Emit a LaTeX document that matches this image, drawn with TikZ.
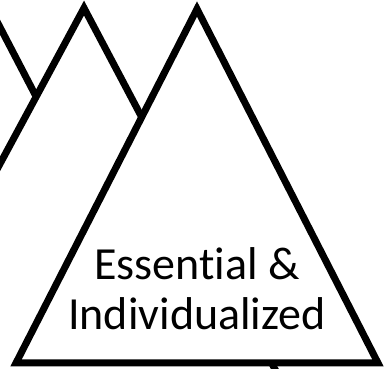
\documentclass[tikz,border=0pt]{standalone}
\usepackage{fontspec}
\setmainfont[Ligatures=NoCommon]{Carlito}
\usepackage{tikz}
\usetikzlibrary{positioning}

\begin{document}
\begin{tikzpicture}[x=1pt,y=-1pt]
\tikzstyle{peak}=[draw=black,line width=7pt,fill=white,miter limit=10]
\tikzstyle{lbl}=[inner sep=0pt,align=center,font=\fontsize{46}{50}\selectfont]
\useasboundingbox (0,0) rectangle (384,369);
\clip (0,0) rectangle (384,369);
% back peaks
\path[peak] (-10,8) -- (-211,394) -- (191,394) -- cycle;
\path[peak] (84,8) -- (-123,392) -- (287,392) -- cycle;
% front peak
\path[peak] (197,9) -- (16,363) -- (378,363) -- cycle;
\node[lbl,anchor=south] (ess) at (197,330) {Essential \&\\Individualized};
\end{tikzpicture}
\end{document}
